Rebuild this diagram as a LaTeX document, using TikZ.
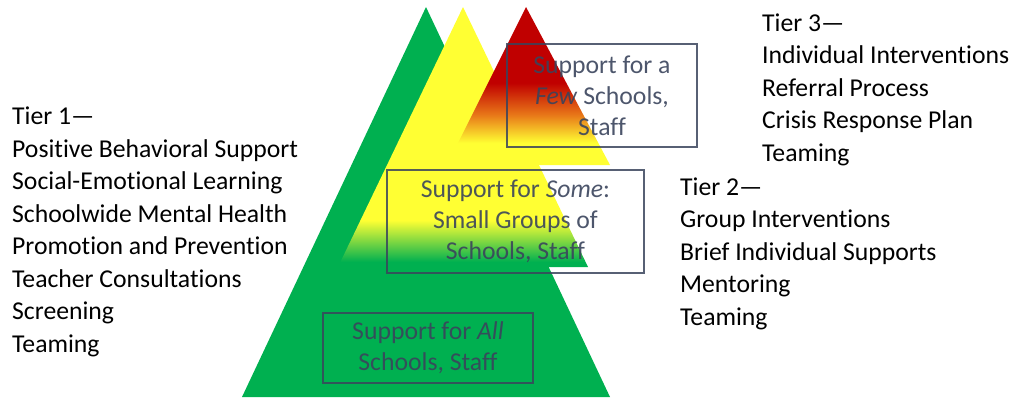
\documentclass[tikz,border=0pt]{standalone}
\usepackage{fontspec}
\setmainfont{Carlito}[Ligatures={TeX,NoCommon}]
\usetikzlibrary{positioning}
\definecolor{clrG}{RGB}{0,176,80}
\definecolor{clrY}{RGB}{255,255,51}
\definecolor{clrO}{RGB}{232,118,24}
\definecolor{clrR}{RGB}{192,0,0}
\definecolor{clrS}{RGB}{58,68,92}
\pgfdeclareverticalshading{shYellow}{100bp}{color(0bp)=(clrG); color(26bp)=(clrG);
  color(34bp)=(clrY); color(100bp)=(clrY)}
\pgfdeclareverticalshading{shRed}{100bp}{color(0bp)=(clrY); color(32bp)=(clrY);
  color(41bp)=(clrO); color(51bp)=(clrR); color(100bp)=(clrR)}
\tikzset{
  tierbox/.style={rectangle,draw=clrS,draw opacity=0.85,line width=1.6pt,
    text=clrS,text opacity=0.9,align=center,
    font=\fontsize{25.7}{31}\selectfont,inner sep=0pt},
  tierlist/.style={anchor=west,align=left,inner sep=0pt,
    font=\fontsize{25.7}{32.5}\selectfont}
}

\begin{document}
\begin{tikzpicture}[x=1pt,y=-1pt]
  \useasboundingbox (0,0) rectangle (1016,400);

  % the three layers
  \fill[clrG] (426,7) -- (610,397) -- (242,397) -- cycle;
  \shade[shading=shYellow] (463,7) -- (588,267) -- (338,267) -- cycle;
  \shade[shading=shRed] (526,7) -- (610,165) -- (447,165) -- cycle;

  \node[tierbox,minimum width=190pt,minimum height=103pt] (few) at (602,95.5)
    {Support for a\\\textit{Few} Schools,\\Staff};
  \node[tierbox,minimum width=257pt,minimum height=103pt] (some) at (515.5,221.5)
    {Support for \textit{Some}:\\Small Groups of\\Schools, Staff};
  \node[tierbox,minimum width=210pt,minimum height=70pt] (all) at (428,348)
    {Support for \textit{All}\\Schools, Staff};

  \node[tierlist] (tier1) at (12,232)
    {Tier 1—\\
     Positive Behavioral Support\\
     Social-Emotional Learning\\
     Schoolwide Mental Health\\
     Promotion and Prevention\\
     Teacher Consultations\\
     Screening\\
     Teaming};
  \node[tierlist] (tier3) at (762,89.5)
    {Tier 3—\\
     Individual Interventions\\
     Referral Process\\
     Crisis Response Plan\\
     Teaming};
  \node[tierlist] (tier2) at (680,253.5)
    {Tier 2—\\
     Group Interventions\\
     Brief Individual Supports\\
     Mentoring\\
     Teaming};
\end{tikzpicture}
\end{document}
